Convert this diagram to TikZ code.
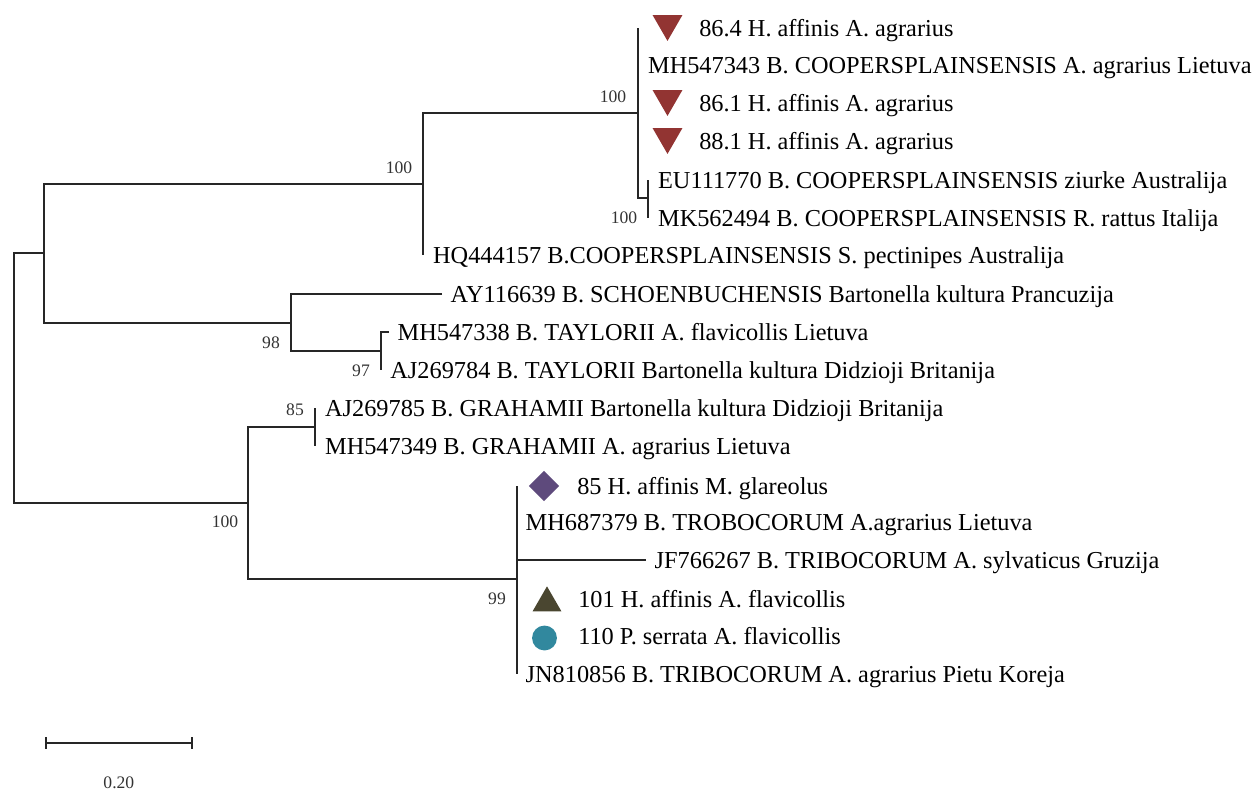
\documentclass[tikz,border=0pt]{standalone}
\usepackage{fontspec}
\setmainfont{Liberation Serif}
\usepackage{tikz}
\usetikzlibrary{positioning, shapes.geometric}

\definecolor{hafRed}{RGB}{146,52,50}
\definecolor{glaPurple}{RGB}{94,74,124}
\definecolor{flaOlive}{RGB}{74,70,48}
\definecolor{serTeal}{RGB}{49,136,158}

\tikzset{
    br/.style={line width=1.1pt, draw=black!85},
    lbl/.style={anchor=west, inner sep=0pt, text height=11.4pt, text depth=0pt,
        font=\fontsize{17.3}{18}\selectfont},
    boot/.style={inner sep=0pt, text=black!80, font=\fontsize{12.5}{13}\selectfont},
    mdown/.style={regular polygon, regular polygon sides=3, shape border rotate=180,
        fill=hafRed, inner sep=0pt, minimum size=24.5pt},
    mup/.style={regular polygon, regular polygon sides=3,
        fill=flaOlive, inner sep=0pt, minimum size=23.7pt},
    mdia/.style={regular polygon, regular polygon sides=4, shape border rotate=45,
        fill=glaPurple, inner sep=0pt, minimum size=21.5pt},
    mdot/.style={circle, fill=serTeal, inner sep=0pt, minimum size=17.7pt}
}

\begin{document}
\begin{tikzpicture}[x=0.025cm, y=-0.025cm]
    \useasboundingbox (0,0) rectangle (1259,791);
    % Inner nodes
    \coordinate (root) at (14,378);
    \coordinate (nUp) at (44,253);
    \coordinate (nLow) at (248,503);
    \coordinate (nCoop) at (423,184);
    \coordinate (nCoopIn) at (638,113);
    \coordinate (nEU) at (648,198);
    \coordinate (nTay) at (291,323);
    \coordinate (nTay2) at (381,351);
    \coordinate (nGra) at (315,427);
    \coordinate (nTri) at (517,579);
    % Leaf tips
    \coordinate (t864) at (638,28);
    \coordinate (t343) at (638,65);
    \coordinate (t861) at (638,103);
    \coordinate (t881) at (638,141);
    \coordinate (tEU) at (648,180);
    \coordinate (tMK) at (648,218);
    \coordinate (tHQ) at (423,255);
    \coordinate (tAY) at (442,294);
    \coordinate (t338) at (389,332);
    \coordinate (t784) at (381,370);
    \coordinate (t785) at (315,408);
    \coordinate (t349) at (315,446);
    \coordinate (t85) at (517,486);
    \coordinate (t379) at (517,522);
    \coordinate (tJF) at (646,560);
    \coordinate (t101) at (517,599);
    \coordinate (t110) at (517,636);
    \coordinate (tJN) at (517,674);

    % Branches
    \draw[br] (nUp) -| (root) |- (nLow);
    \draw[br] (nCoop) -| (nUp) |- (nTay);
    \draw[br] (nCoopIn) -| (nCoop) |- (tHQ);
    \draw[br] (t864) |- (nEU);
    \draw[br] (tEU) -- (tMK);
    \draw[br] (tAY) -| (nTay) |- (nTay2);
    \draw[br] (t338) -| (nTay2) |- (t784);
    \draw[br] (nGra) -| (nLow) |- (nTri);
    \draw[br] (t785) -- (t349);
    \draw[br] (t85) -- (tJN);
    \draw[br] (tJF -| nTri) -- (tJF);

    % Markers
    \node[mdown] (m864) at (667.5,23.7) {};
    \node[mdown] (m861) at (667.5,98.7) {};
    \node[mdown] (m881) at (667.5,136.7) {};
    \node[mdia] (m85) at (544,486) {};
    \node[mup] (m101) at (547,603) {};
    \node[mdot] (m110) at (544.5,638) {};

    % Leaf labels
    \node[lbl] (l864) at (699,28) {86.4 H. affinis A. agrarius};
    \node[lbl, right=7pt of t343] (l343) {MH547343 B. COOPERSPLAINSENSIS A. agrarius Lietuva};
    \node[lbl] (l861) at (699,103) {86.1 H. affinis A. agrarius};
    \node[lbl] (l881) at (699,141) {88.1 H. affinis A. agrarius};
    \node[lbl, right=7pt of tEU] (lEU) {EU111770 B. COOPERSPLAINSENSIS ziurke Australija};
    \node[lbl, right=7pt of tMK] (lMK) {MK562494 B. COOPERSPLAINSENSIS R. rattus Italija};
    \node[lbl, right=7pt of tHQ] (lHQ) {HQ444157 B.COOPERSPLAINSENSIS S. pectinipes Australija};
    \node[lbl, right=6pt of tAY] (lAY) {AY116639 B. SCHOENBUCHENSIS Bartonella kultura Prancuzija};
    \node[lbl, right=6pt of t338] (l338) {MH547338 B. TAYLORII A. flavicollis Lietuva};
    \node[lbl, right=6.5pt of t784] (l784) {AJ269784 B. TAYLORII Bartonella kultura Didzioji Britanija};
    \node[lbl, right=7pt of t785] (l785) {AJ269785 B. GRAHAMII Bartonella kultura Didzioji Britanija};
    \node[lbl, right=7pt of t349] (l349) {MH547349 B. GRAHAMII A. agrarius Lietuva};
    \node[lbl] (l85) at (577,486) {85 H. affinis M. glareolus};
    \node[lbl, right=6pt of t379] (l379) {MH687379 B. TROBOCORUM A.agrarius Lietuva};
    \node[lbl, right=6pt of tJF] (lJF) {JF766267 B. TRIBOCORUM A. sylvaticus Gruzija};
    \node[lbl] (l101) at (578,599) {101 H. affinis A. flavicollis};
    \node[lbl] (l110) at (578,636) {110 P. serrata A. flavicollis};
    \node[lbl, right=6pt of tJN] (lJN) {JN810856 B. TRIBOCORUM A. agrarius Pietu Koreja};

    % Bootstrap values
    \node[boot] (b1) at (399,168) {100};
    \node[boot] (b2) at (613,97) {100};
    \node[boot] (b3) at (624,218) {100};
    \node[boot] (b4) at (271,343) {98};
    \node[boot] (b5) at (361,371) {97};
    \node[boot] (b6) at (295,410) {85};
    \node[boot] (b7) at (225,522) {100};
    \node[boot] (b8) at (497,599) {99};

    % Scale bar
    \coordinate (sL) at (46,743);
    \coordinate (sR) at (192,743);
    \draw[br] (sL) -- (sR);
    \draw[br] ([yshift=4pt]sL) -- ([yshift=-4pt]sL);
    \draw[br] ([yshift=4pt]sR) -- ([yshift=-4pt]sR);
    \node[boot, below=24pt of sL -| sR, xshift=-52pt] (sc) {0.20};
\end{tikzpicture}
\end{document}
